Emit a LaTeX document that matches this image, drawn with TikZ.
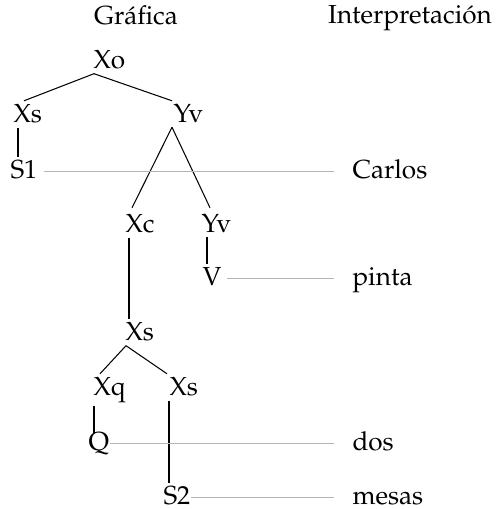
\documentclass[tikz,border=0pt]{standalone}
\usepackage[T1]{fontenc}
\usepackage{mathpazo}
\usepackage{tikz}
\usetikzlibrary{calc}
\definecolor{linkgray}{HTML}{B4B4B4}

\begin{document}
\begin{tikzpicture}[x=0.383pt, y=-0.383pt,
    cat/.style={anchor=base west, inner xsep=0pt, inner ysep=1pt},
    word/.style={anchor=base west, inner xsep=0pt, inner ysep=2pt},
    link/.style={linkgray, shorten >=7pt}]
    \useasboundingbox (0,0) rectangle (496,509);

    % Headings
    \node[anchor=base] (gra) at (136,24) {Gr\'afica};
    \node[anchor=base] (int) at (410,23) {Interpretaci\'on};

    % Graph
    \node[cat] (xo)  at (93,68)   {Xo};
    \node[cat] (xs1) at (13,122)  {Xs};
    \node[cat] (yv1) at (173,122) {Yv};
    \node[cat] (s1)  at (10,178)  {S1};
    \node[cat] (xc)  at (125,232) {Xc};
    \node[cat] (yv2) at (201,232) {Yv};
    \node[cat] (v)   at (202,285) {V};
    \node[cat] (xs2) at (125,340) {Xs};
    \node[cat] (xq)  at (93,395)  {Xq};
    \node[cat] (xs3) at (169,395) {Xs};
    \node[cat] (q)   at (88,450)  {Q};
    \node[cat] (s2)  at (163,504) {S2};

    % Interpretation
    \node[word] (carlos) at (352,178) {Carlos};
    \node[word] (pinta)  at (352,285) {pinta};
    \node[word] (dos)    at (352,450) {dos};
    \node[word] (mesas)  at (352,504) {mesas};

    % Edges
    \draw ($(xo.south west)+(1,2)$) -- ($(xs1.north west)+(11,0)$);
    \draw ($(xo.south west)+(1,2)$) -- ($(yv1.north west)+(-1,0)$);
    \draw ($(xs1.south west)+(5,2)$) -- ($(s1.north west)+(8,0)$);
    \draw ($(yv1.south west)+(-1,2)$) -- ($(xc.north west)+(7,-3)$);
    \draw ($(yv1.south west)+(-1,2)$) -- ($(yv2.north west)+(9,-3)$);
    \draw ($(xc.south west)+(4,2)$) -- ($(xs2.north west)+(4,0)$);
    \draw ($(yv2.south west)+(6,2)$) -- ($(v.north west)+(5,0)$);
    \draw ($(xs2.south west)+(1,2)$) -- ($(xq.north west)+(7,0)$);
    \draw ($(xs2.south west)+(1,2)$) -- ($(xs3.north west)+(-2,0)$);
    \draw ($(xq.south west)+(1,0)$) -- ($(q.north west)+(6,4)$);
    \draw ($(xs3.south west)+(0,2)$) -- ($(s2.north west)+(6,0)$);

    % Links
    \draw[link, shorten <=2.5pt] (s1.mid east) -- (carlos.mid west);
    \draw[link, shorten <=2pt] (v.mid east) -- (pinta.mid west);
    \draw[link] (q.mid east) -- (dos.mid west);
    \draw[link] (s2.mid east) -- (mesas.mid west);
\end{tikzpicture}
\end{document}
